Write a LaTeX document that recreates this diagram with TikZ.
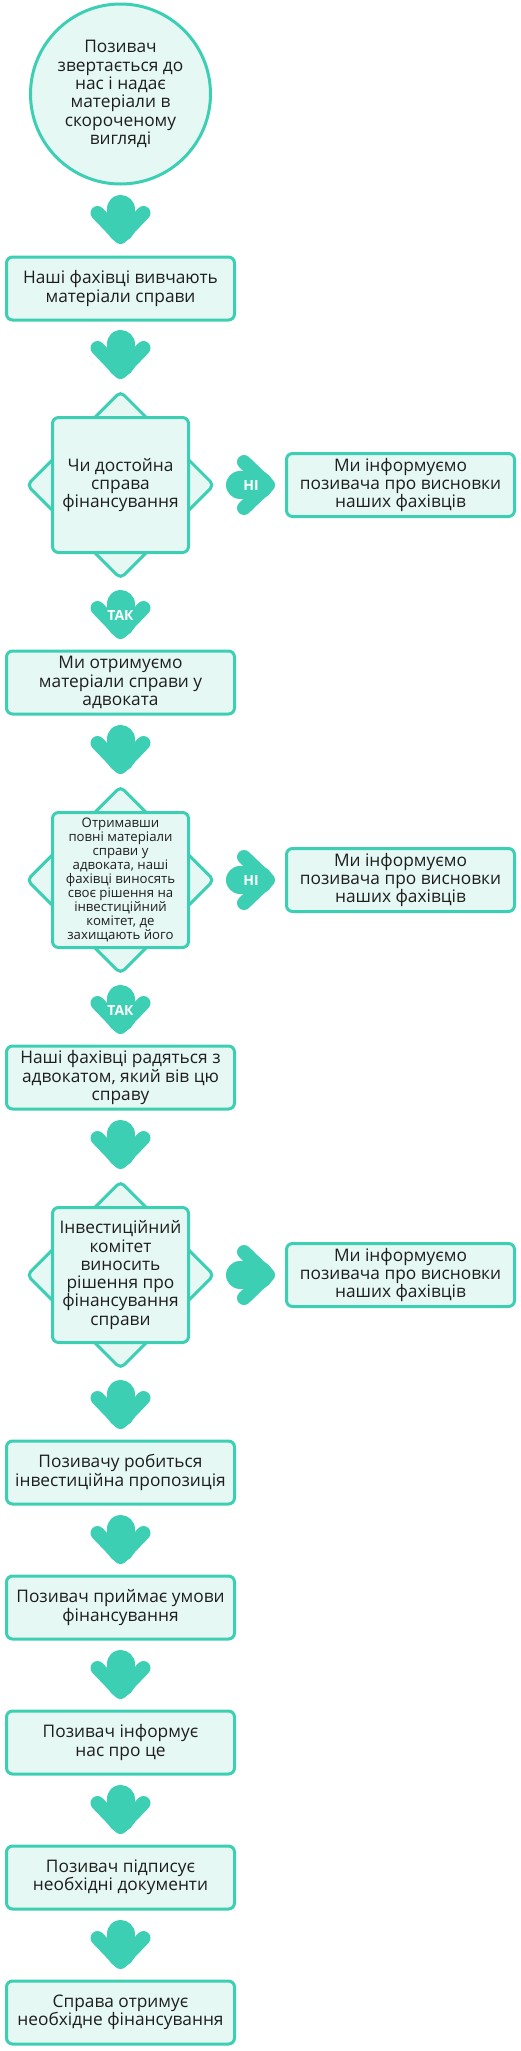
\documentclass[tikz,border=0pt]{standalone}
\usepackage{fontspec}
\setmainfont{Open Sans}
\usetikzlibrary{shapes.geometric, positioning, backgrounds}
\usepackage{color}
\definecolor{accent}{RGB}{61,207,180}
\definecolor{mint}{RGB}{229,248,243}
\definecolor{ink}{RGB}{30,30,30}
\tikzstyle{stepnode} = [rectangle,draw=accent,fill=mint,line width=3pt,rounded corners=6pt,minimum width=228pt,minimum height=63pt,inner sep=2pt,align=center,text=ink,font=\fontsize{17.3}{18.3}\selectfont]
\tikzstyle{startnode} = [circle,draw=accent,fill=mint,line width=3pt,minimum size=180pt,inner sep=0pt,align=center,text=ink,font=\fontsize{17.3}{18.3}\selectfont]
\tikzstyle{qdiamond} = [diamond,aspect=1,draw=accent,fill=mint,line width=3pt,rounded corners=5pt,minimum width=188pt,minimum height=188pt,inner sep=0pt]
\tikzstyle{qsquare} = [rectangle,draw=accent,fill=mint,line width=3pt,rounded corners=6pt,minimum width=136pt,minimum height=135pt,inner sep=0pt,align=center,text=ink,font=\fontsize{17.3}{18.3}\selectfont]
\tikzstyle{arrnode} = [rectangle,minimum width=60pt,minimum height=50pt,inner sep=0pt,text=white,font=\bfseries\fontsize{14}{14}\selectfont]
\tikzset{
  fatarr/.pic={
    \draw[accent,line width=14pt,line cap=round,line join=round] (-23pt,7pt) -- (0pt,-17pt) -- (23pt,7pt);
    \draw[accent,line width=28pt,line cap=round] (0pt,-8pt) -- (0pt,11pt);
  }
}

\begin{document}
\begin{tikzpicture}[x=1pt,y=1pt,node distance=67.5pt]
\useasboundingbox (0,0) rectangle (521,-2051);
% top of the chain
\node [startnode] (start) at (120.5,-94) {Позивач\\звертається до\\нас і надає\\матеріали в\\скороченому\\вигляді};
\node [arrnode,below of=start,yshift=-58.5pt] (a1) {};
\node [stepnode,below of=a1,yshift=-1pt] (b1) {Наші фахівці вивчають\\матеріали справи};
\node [arrnode,below of=b1,yshift=1pt] (a2) {};

% first question
\node [qdiamond,below of=a2,yshift=-62.5pt] (q1) {};
\node [qsquare] (q1box) at (q1) {Чи достойна\\справа\\фінансування};
\node [arrnode,right of=q1,xshift=63pt] (n1) {НІ};
\node [stepnode,right of=n1,xshift=82pt] (r1) {Ми інформуємо\\позивача про висновки\\наших фахівців};
\node [arrnode,below of=q1,yshift=-62.5pt] (t1) {ТАК};
\node [stepnode,below of=t1] (b2) {Ми отримуємо\\матеріали справи у\\адвоката};
\node [arrnode,below of=b2] (a3) {};

% second question
\node [qdiamond,below of=a3,yshift=-62.5pt] (q2) {};
\node [qsquare,font=\fontsize{13.2}{14}\selectfont] (q2box) at (q2) {Отримавши\\повні матеріали\\справи у\\адвоката, наші\\фахівці виносять\\своє рішення на\\інвестиційний\\комітет, де\\захищають його};
\node [arrnode,right of=q2,xshift=63pt] (n2) {НІ};
\node [stepnode,right of=n2,xshift=82pt] (r2) {Ми інформуємо\\позивача про висновки\\наших фахівців};
\node [arrnode,below of=q2,yshift=-62.5pt] (t2) {ТАК};
\node [stepnode,below of=t2] (b3) {Наші фахівці радяться з\\адвокатом, який вів цю\\справу};
\node [arrnode,below of=b3] (a4) {};

% third question
\node [qdiamond,below of=a4,yshift=-62.5pt] (q3) {};
\node [qsquare] (q3box) at (q3) {Інвестиційний\\комітет\\виносить\\рішення про\\фінансування\\справи};
\node [arrnode,right of=q3,xshift=63pt] (n3) {};
\node [stepnode,right of=n3,xshift=82pt] (r3) {Ми інформуємо\\позивача про висновки\\наших фахівців};
\node [arrnode,below of=q3,yshift=-62.5pt] (a5) {};

% rest of the chain
\node [stepnode,below of=a5] (b4) {Позивачу робиться\\інвестиційна пропозиція};
\node [arrnode,below of=b4] (a6) {};
\node [stepnode,below of=a6] (b5) {Позивач приймає умови\\фінансування};
\node [arrnode,below of=b5] (a7) {};
\node [stepnode,below of=a7] (b6) {Позивач інформує\\нас про це};
\node [arrnode,below of=b6] (a8) {};
\node [stepnode,below of=a8] (b7) {Позивач підписує\\необхідні документи};
\node [arrnode,below of=b7] (a9) {};
\node [stepnode,below of=a9] (b8) {Справа отримує\\необхідне фінансування};

% fat arrows behind the labels
\begin{scope}[on background layer]
\foreach \a in {a1,a2,t1,a3,t2,a4,a5,a6,a7,a8,a9}
  \pic at (\a) {fatarr};
\foreach \a in {n1,n2,n3}
  \pic[rotate=90] at (\a) {fatarr};
\end{scope}
\end{tikzpicture}
\end{document}
